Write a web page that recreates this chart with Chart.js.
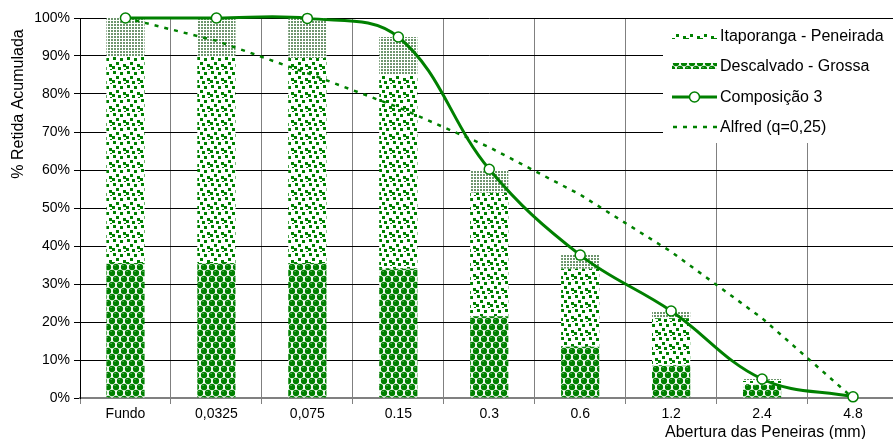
<!DOCTYPE html>
<html>
<head>
<meta charset="utf-8">
<script src="https://cdn.jsdelivr.net/npm/chart.js@4.4.1/dist/chart.umd.min.js"></script>
<style>
    html, body { margin: 0; padding: 0; background: #fff; overflow: hidden; }
    #wrap { width: 893px; height: 439px; overflow: hidden; }
    #chart { display: block; width: 905px; height: 439px; }
</style>
</head>
<body>
<div id="wrap"><canvas id="chart" width="905" height="439"></canvas></div>
<script>
const categories = ["Fundo", "0,0325", "0,075", "0.15", "0.3", "0.6", "1.2", "2.4", "4.8"];
// bar segments (% retida acumulada)
const descalvado = [35.5, 35.5, 35.5, 34, 21.5, 13.5, 8.5, 3.5, 0];
const itaporanga = [54.5, 54.5, 54, 51, 32.5, 20.5, 12.5, 1, 0];
const restante = [10, 10, 10.5, 10, 6, 3.6, 1.9, 0.5, 0];
// lines
const composicao = [100, 100, 99.9, 95, 60.2, 37.6, 22.9, 5, 0.3];
const alfred = [100, 94, 85.5, 76.5, 66, 53.5, 38.5, 21, 0];
const yTicks = [0, 10, 20, 30, 40, 50, 60, 70, 80, 90, 100];

const GREEN = "#008000";
const FONT = "'Liberation Sans', Arial, sans-serif";

const canvas = document.getElementById("chart");
const ctx = canvas.getContext("2d");

const makeTile = (w, h, draw) => {
    const c = document.createElement("canvas");
    c.width = w;
    c.height = h;
    const g = c.getContext("2d");
    g.fillStyle = "#fff";
    g.fillRect(0, 0, w, h);
    draw(g);
    return ctx.createPattern(c, "repeat");
};

// big spheres (Descalvado)
const sphere = (g, x, y) => {
    g.fillStyle = GREEN;
    g.beginPath();
    g.arc(x, y, 3.2, 0, Math.PI * 2);
    g.fill();
    g.fillStyle = "#5fae5f";
    g.fillRect(x - 1.6, y - 2, 1.4, 1);
};
const spherePattern = makeTile(8, 12, (g) => {
    sphere(g, 4, 3);
    sphere(g, 4, 15);
    sphere(g, 0, 9);
    sphere(g, 8, 9);
    sphere(g, 0, -3);
    sphere(g, 8, -3);
});

// small confetti (Itaporanga)
const confettiPattern = makeTile(14, 14, (g) => {
    g.fillStyle = GREEN;
    [[1, 1], [8, 2], [4, 6], [11, 8], [0, 10], [6, 11], [12, 13]].forEach(([x, y]) => {
        g.fillRect(x, y, 3, 3);
    });
});

// fine dots (top segment)
const dotPattern = makeTile(3, 3, (g) => {
    g.fillStyle = "#6e956e";
    g.fillRect(0, 0, 2, 2);
});

const legendItems = [
    { label: "Itaporanga - Peneirada", type: "bar", fill: confettiPattern },
    { label: "Descalvado - Grossa", type: "bar", fill: spherePattern },
    { label: "Composição 3", type: "marker" },
    { label: "Alfred (q=0,25)", type: "dash" },
];

const legendBox = {
    id: "legendBox",
    beforeDatasetsDraw(chart) {
        const c = chart.ctx;
        c.save();
        c.fillStyle = "#fff";
        c.fillRect(663, 19, 250, 124);
        c.font = "16px " + FONT;
        c.textBaseline = "middle";
        const rows = [36, 66, 97, 127];
        legendItems.forEach((item, i) => {
            const y = rows[i];
            if (item.type == "bar") {
                c.fillStyle = item.fill;
                c.fillRect(672, y - 3, 45, 6);
            } else if (item.type == "marker") {
                c.strokeStyle = GREEN;
                c.lineWidth = 3;
                c.beginPath();
                c.moveTo(672, y);
                c.lineTo(717, y);
                c.stroke();
                c.fillStyle = "#fff";
                c.lineWidth = 1.5;
                c.beginPath();
                c.arc(694.5, y, 5, 0, Math.PI * 2);
                c.fill();
                c.stroke();
            } else {
                c.strokeStyle = GREEN;
                c.lineWidth = 2.5;
                c.setLineDash([4, 6]);
                c.beginPath();
                c.moveTo(673, y);
                c.lineTo(717, y);
                c.stroke();
                c.setLineDash([]);
            }
            c.fillStyle = "#000";
            c.fillText(item.label, 720, y + 1);
        });
        c.restore();
    },
    afterDraw(chart) {
        const c = chart.ctx;
        c.save();
        c.font = "16px " + FONT;
        c.fillStyle = "#000";
        c.textAlign = "right";
        c.textBaseline = "alphabetic";
        c.fillText("Abertura das Peneiras (mm)", 866, 437);
        // y axis title
        c.translate(19, 104);
        c.rotate(-Math.PI / 2);
        c.textAlign = "center";
        c.textBaseline = "middle";
        c.fillText("% Retida Acumulada", 0, 0);
        c.restore();
    },
};

new Chart(ctx, {
    type: "bar",
    data: {
        labels: categories,
        datasets: [
            {
                type: "line",
                label: "Composição 3",
                data: composicao,
                borderColor: GREEN,
                borderWidth: 3,
                tension: 0.38,
                pointRadius: 5,
                pointBorderWidth: 1.5,
                pointBackgroundColor: "#fff",
                pointBorderColor: GREEN,
                stack: "comp",
                order: 0,
                clip: false,
            },
            {
                type: "line",
                label: "Alfred (q=0,25)",
                data: alfred,
                borderColor: GREEN,
                borderWidth: 2.5,
                borderDash: [4, 6],
                pointRadius: 0,
                tension: 0,
                stack: "alf",
                order: 1,
            },
            {
                label: "Descalvado - Grossa",
                data: descalvado,
                backgroundColor: spherePattern,
                stack: "bars",
                order: 2,
            },
            {
                label: "Itaporanga - Peneirada",
                data: itaporanga,
                backgroundColor: confettiPattern,
                stack: "bars",
                order: 2,
            },
            {
                label: "",
                data: restante,
                backgroundColor: dotPattern,
                stack: "bars",
                order: 2,
            },
        ],
    },
    options: {
        responsive: false,
        animation: false,
        events: [],
        layout: { padding: { top: 18, left: 0, right: 0, bottom: 0 } },
        elements: { line: { capBezierPoints: false } },
        datasets: { bar: { barPercentage: 0.42, categoryPercentage: 1 } },
        plugins: {
            legend: { display: false },
            tooltip: { enabled: false },
        },
        scales: {
            x: {
                stacked: true,
                offset: true,
                afterFit: (scale) => { scale.height = 41; },
                grid: { color: "#808080", lineWidth: 1, offset: true, tickLength: 6 },
                border: { color: "#808080", width: 2 },
                ticks: { color: "#000", font: { family: FONT, size: 14 }, padding: 2, maxRotation: 0 },
            },
            y: {
                stacked: true,
                min: 0,
                max: 100,
                afterFit: (scale) => { scale.width = 80; },
                afterBuildTicks: (scale) => { scale.ticks = yTicks.map((v) => ({ value: v })); },
                grid: { color: "#000", lineWidth: 1, tickLength: 6 },
                border: { color: "#000", width: 1 },
                ticks: {
                    color: "#000",
                    font: { family: FONT, size: 14 },
                    padding: 4,
                    callback: (v) => v + "%",
                },
            },
        },
    },
    plugins: [legendBox],
});
</script>
</body>
</html>
